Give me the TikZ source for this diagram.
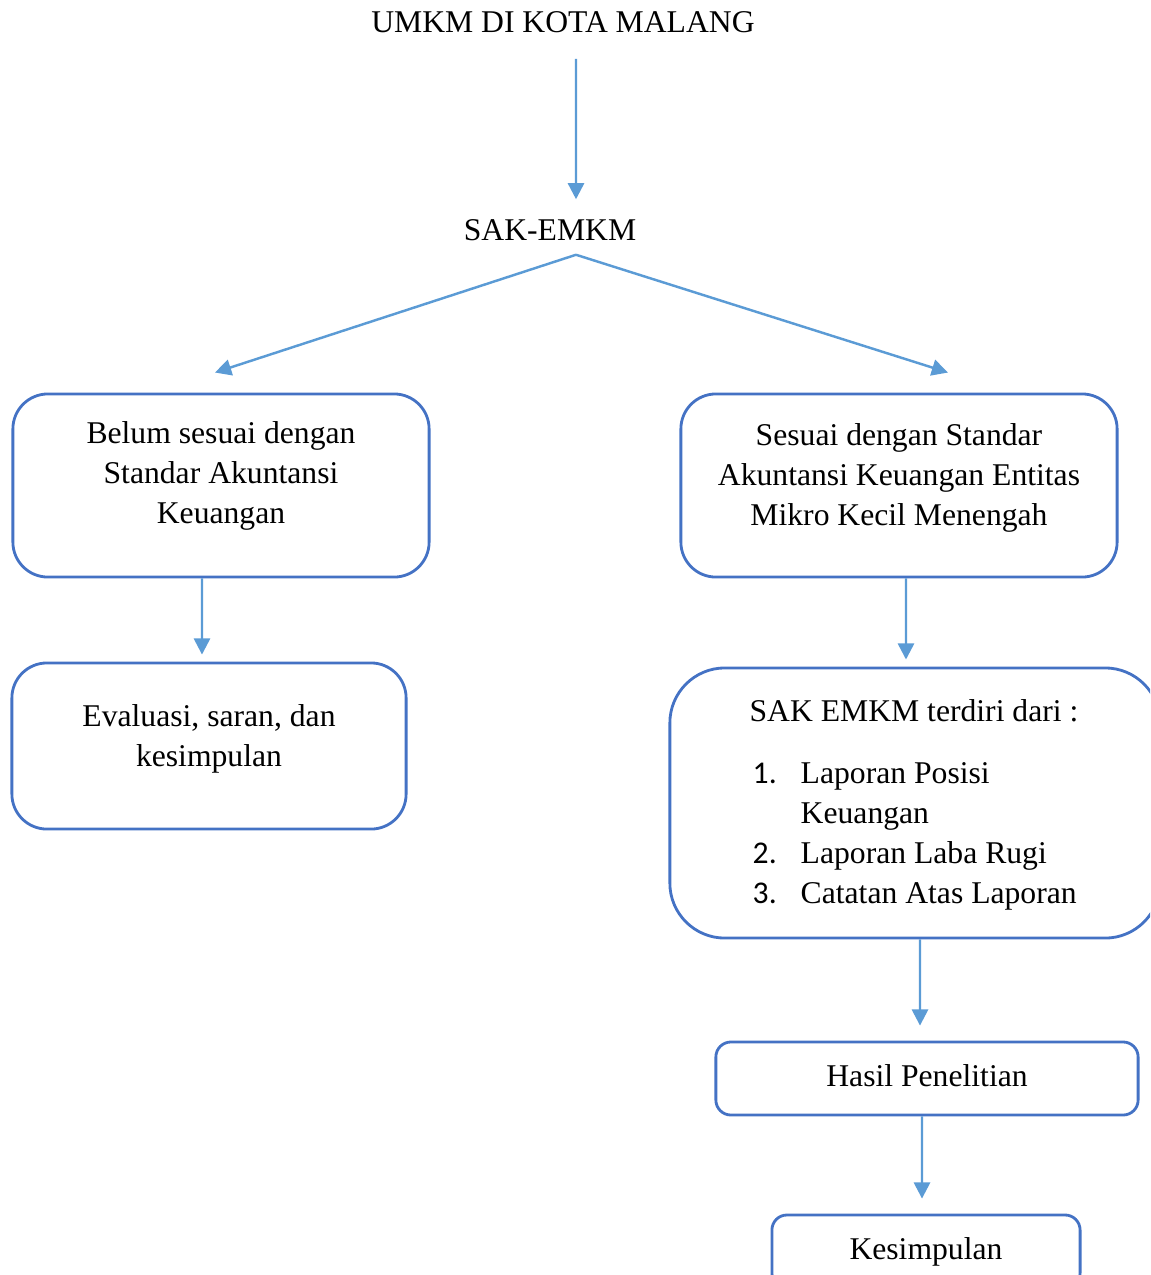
\documentclass[tikz,border=0pt]{standalone}
\usepackage{fontspec}
\setmainfont{Liberation Serif}
\newfontfamily\numfont{Carlito}
\usetikzlibrary{arrows.meta}
\definecolor{boxblue}{HTML}{4472C4}
\definecolor{arrowblue}{HTML}{5B9BD5}

\begin{document}
\begin{tikzpicture}[
    x=0.01cm, y=-0.01cm,
    box/.style={draw=boxblue, line width=0.8pt, rounded corners=0.35cm, inner sep=0pt},
    txt/.style={align=center, font=\fontsize{9}{11.4}\selectfont, inner sep=0pt},
    title/.style={txt, text height=6pt, text depth=0pt},
    list/.style={font=\fontsize{9}{11.4}\selectfont, inner sep=0pt},
    arrow/.style={-{Triangle[length=4.6pt, width=4.6pt]}, arrowblue, line width=0.7pt}
]
\useasboundingbox (0,0) rectangle (1150,1275);
\clip (0,0) rectangle (1150,1275);

\node[title] (umkm) at (563,22) {UMKM DI KOTA MALANG};
\node[title] (sak) at (550,230) {SAK-EMKM};

\node[box, minimum width=4.16cm, minimum height=1.83cm] (belum) at (221,485.5) {};
\node[txt] (belum-txt) at (221,476) {Belum sesuai dengan\\Standar Akuntansi\\Keuangan};

\node[box, minimum width=4.36cm, minimum height=1.83cm] (sesuai) at (899,485.5) {};
\node[txt] (sesuai-txt) at (899,478) {Sesuai dengan Standar\\Akuntansi Keuangan Entitas\\Mikro Kecil Menengah};

\node[box, minimum width=3.94cm, minimum height=1.66cm] (evaluasi) at (209,746) {};
\node[txt] (evaluasi-txt) at (209,739) {Evaluasi, saran, dan\\kesimpulan};

\node[box, minimum width=4.9cm, minimum height=2.7cm, rounded corners=0.55cm] (terdiri) at (915,803) {};
\node[txt] (terdiri-txt) at (914,711) {SAK EMKM terdiri dari :};
\node[list, anchor=base west] (daftar) at (752,783) {\begin{tabular}[t]{@{}p{0.48cm}@{}l@{}}
{\numfont 1.} & Laporan Posisi\\
 & Keuangan\\
{\numfont 2.} & Laporan Laba Rugi\\
{\numfont 3.} & Catatan Atas Laporan
\end{tabular}};

\node[box, txt, minimum width=4.22cm, minimum height=0.73cm, rounded corners=0.15cm, text depth=1.7pt] (hasil) at (927,1078.5) {Hasil Penelitian};
\node[box, txt, minimum width=3.08cm, minimum height=0.73cm, rounded corners=0.15cm] (kesimpulan) at (926,1251.5) {Kesimpulan};

\draw[arrow, shorten <=0.255cm, shorten >=0.195cm] ([xshift=0.13cm]umkm.south) -- ([xshift=0.26cm]sak.north);
\draw[arrow] ([xshift=0.26cm, yshift=-0.135cm]sak.south) -- ([xshift=-0.06cm, yshift=0.2cm]belum.north);
\draw[arrow] ([xshift=0.26cm, yshift=-0.135cm]sak.south) -- ([xshift=0.49cm, yshift=0.2cm]sesuai.north);
\draw[arrow, shorten >=0.07cm] ([xshift=-0.19cm]belum.south) -- ([xshift=-0.07cm]evaluasi.north);
\draw[arrow, shorten >=0.07cm] ([xshift=0.07cm]sesuai.south) -- ([xshift=-0.09cm]terdiri.north);
\draw[arrow, shorten >=0.15cm] ([xshift=0.05cm]terdiri.south) -- ([xshift=-0.07cm]hasil.north);
\draw[arrow, shorten >=0.15cm] ([xshift=-0.05cm]hasil.south) -- ([xshift=-0.04cm]kesimpulan.north);
\end{tikzpicture}
\end{document}
